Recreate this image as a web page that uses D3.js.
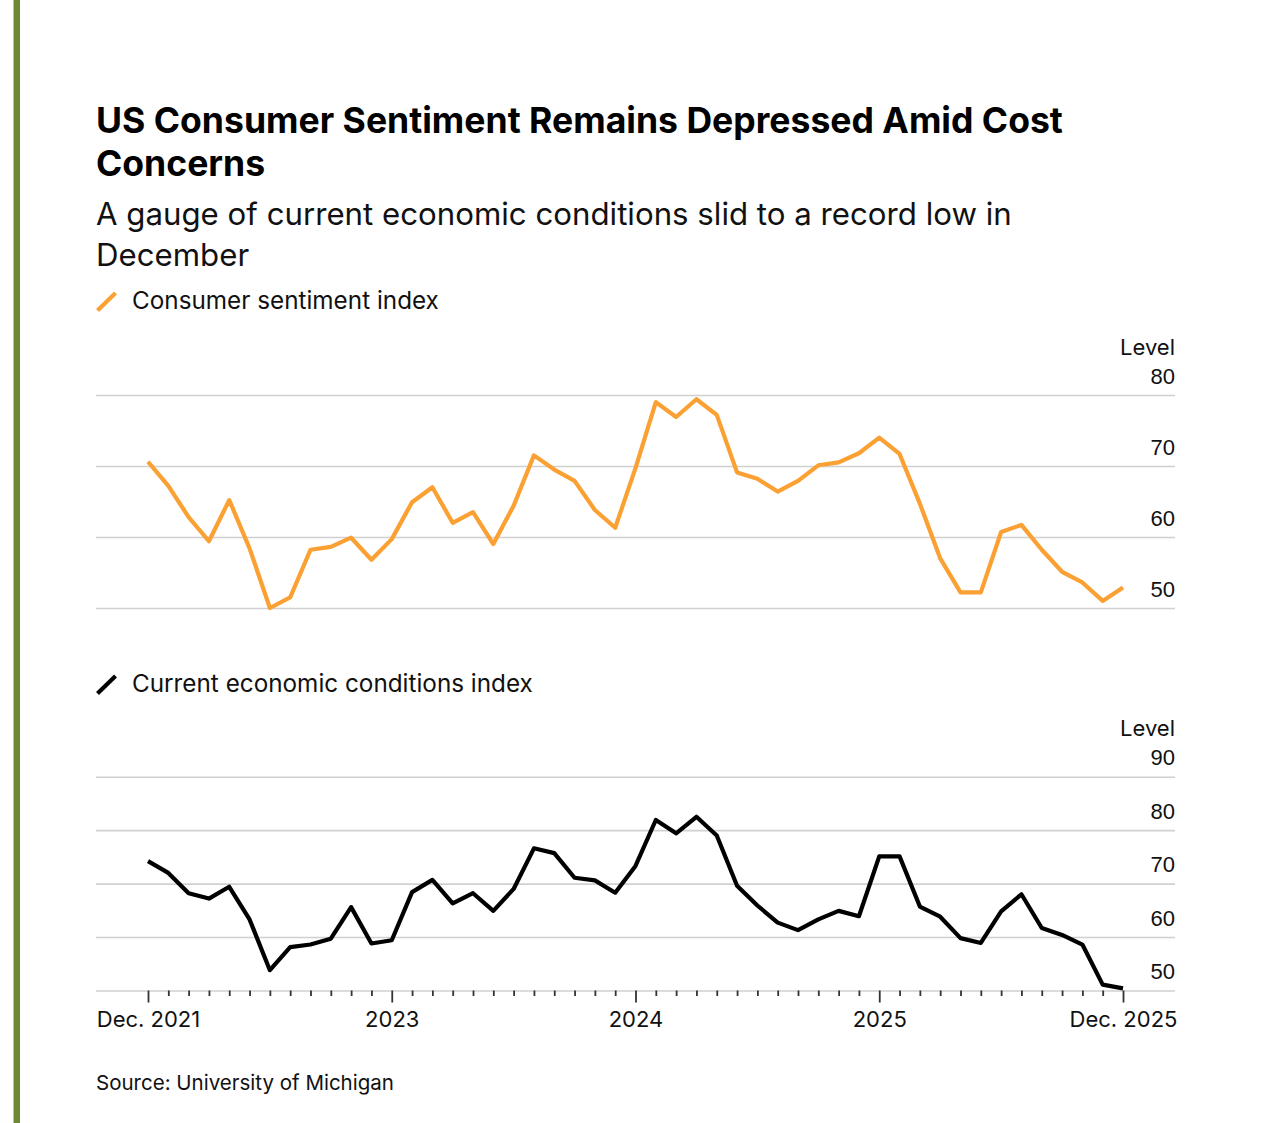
<!DOCTYPE html>
<html>
<head>
<meta charset="utf-8">
<script src="https://cdn.jsdelivr.net/npm/d3@7"></script>
<style>
  html, body { margin: 0; padding: 0; background: #fff; }
  svg { display: block; font-family: Inter, "Liberation Sans", Arial, sans-serif; }
</style>
</head>
<body>
<svg id="chart" width="1279" height="1123"></svg>
<script>
// ---------- DATA ----------
const months = [
  "2021-12",
  "2022-01","2022-02","2022-03","2022-04","2022-05","2022-06","2022-07","2022-08","2022-09","2022-10","2022-11","2022-12",
  "2023-01","2023-02","2023-03","2023-04","2023-05","2023-06","2023-07","2023-08","2023-09","2023-10","2023-11","2023-12",
  "2024-01","2024-02","2024-03","2024-04","2024-05","2024-06","2024-07","2024-08","2024-09","2024-10","2024-11","2024-12",
  "2025-01","2025-02","2025-03","2025-04","2025-05","2025-06","2025-07","2025-08","2025-09","2025-10","2025-11","2025-12"
];
const sentiment = [
  70.6,
  67.2, 62.8, 59.4, 65.2, 58.4, 50.0, 51.5, 58.2, 58.6, 59.9, 56.8, 59.7,
  64.9, 67.0, 62.0, 63.5, 59.0, 64.4, 71.5, 69.5, 67.9, 63.8, 61.3, 69.7,
  79.0, 76.9, 79.4, 77.2, 69.1, 68.2, 66.4, 67.9, 70.1, 70.5, 71.8, 74.0,
  71.7, 64.7, 57.0, 52.2, 52.2, 60.7, 61.7, 58.2, 55.1, 53.6, 51.0, 52.9
];
const currentConditions = [
  74.2,
  72.0, 68.2, 67.2, 69.4, 63.3, 53.8, 58.1, 58.6, 59.7, 65.6, 58.8, 59.4,
  68.4, 70.7, 66.3, 68.2, 64.9, 69.0, 76.6, 75.7, 71.1, 70.6, 68.3, 73.3,
  81.9, 79.4, 82.5, 79.0, 69.6, 65.9, 62.7, 61.3, 63.3, 64.9, 63.9, 75.1,
  75.1, 65.7, 63.8, 59.8, 58.9, 64.8, 68.0, 61.7, 60.4, 58.6, 51.1, 50.4
];
const topTicks = [50, 60, 70, 80];
const bottomTicks = [50, 60, 70, 80, 90];
const xLabelIndex = [0, 12, 24, 36, 48];
const xLabels = ["Dec. 2021", "2023", "2024", "2025", "Dec. 2025"];

const title = ["US Consumer Sentiment Remains Depressed Amid Cost", "Concerns"];
const subtitle = ["A gauge of current economic conditions slid to a record low in", "December"];
const legendTop = "Consumer sentiment index";
const legendBottom = "Current economic conditions index";
const unitLabel = "Level";
const source = "Source: University of Michigan";

// ---------- STYLE ----------
const ORANGE = "#FBA033";
const BLACK = "#000000";
const GRID = "#d0d0d0";
const TEXT = "#111111";
const LEFT = 96, RIGHT = 1175;

const svg = d3.select("#chart");

// fit a text element's font-size so that its rendered width matches a target width
function fitWidth(sel, target) {
  const fs = +sel.attr("font-size");
  const w = sel.node().getComputedTextLength();
  if (w > 0) sel.attr("font-size", (fs * target / w).toFixed(2));
}

// left accent bar
svg.append("rect").attr("x", 13.5).attr("y", 0).attr("width", 6.5).attr("height", 1123).attr("fill", "#6C8A35");

// title
const tt = svg.append("text").attr("font-weight", 700).attr("font-size", 32).attr("fill", "#000");
title.forEach((t, i) => tt.append("tspan").attr("x", LEFT).attr("y", 132.5 + i * 43.5).text(t));
{
  const w = tt.select("tspan").node().getComputedTextLength();
  tt.attr("font-size", (32 * 967 / w).toFixed(2));
}
const st = svg.append("text").attr("font-size", 28).attr("fill", TEXT);
subtitle.forEach((t, i) => st.append("tspan").attr("x", LEFT).attr("y", 224.5 + i * 41).text(t));
{
  const w = st.select("tspan").node().getComputedTextLength();
  st.attr("font-size", (28 * 916 / w).toFixed(2));
}

// legends
function legend(y, color, label, width) {
  svg.append("line").attr("x1", 97.5).attr("x2", 115.5).attr("y1", y + 1.5).attr("y2", y - 16)
    .attr("stroke", color).attr("stroke-width", 4.2).attr("stroke-linecap", "butt");
  const t = svg.append("text").attr("x", 132).attr("y", y).attr("font-size", 23).attr("fill", TEXT).text(label);
  fitWidth(t, width);
}
legend(309, ORANGE, legendTop, 307);
legend(692, BLACK, legendBottom, 401);

// scales
const x = d3.scaleLinear().domain([0, months.length - 1]).range([148, 1123]);
const yTop = d3.scaleLinear().domain([50, 80]).range([608, 395]);
const yBot = d3.scaleLinear().domain([50, 90]).range([990.5, 776.7]);

function yAxis(scale, ticks) {
  const g = svg.append("g").attr("transform", `translate(${RIGHT},0)`)
    .call(d3.axisLeft(scale).tickValues(ticks).tickSize(RIGHT - LEFT).tickFormat(""));
  g.select(".domain").remove();
  g.selectAll(".tick line").attr("stroke", GRID).attr("stroke-width", 1.6);
  g.selectAll(".tick").append("text")
    .attr("x", 0).attr("y", -12).attr("text-anchor", "end")
    .attr("font-size", 22).attr("fill", TEXT).text(d => d);
  const top = d3.max(ticks);
  svg.append("text").attr("x", RIGHT).attr("y", scale(top) - 40.5)
    .attr("text-anchor", "end").attr("font-size", 22).attr("fill", TEXT).text(unitLabel);
}
yAxis(yTop, topTicks);
yAxis(yBot, bottomTicks);

// lines
const lineTop = d3.line().x((d, i) => x(i)).y(d => yTop(d));
const lineBot = d3.line().x((d, i) => x(i)).y(d => yBot(d));
svg.append("path").datum(sentiment).attr("d", lineTop).attr("fill", "none")
  .attr("stroke", ORANGE).attr("stroke-width", 4.2).attr("stroke-linejoin", "round");
svg.append("path").datum(currentConditions).attr("d", lineBot).attr("fill", "none")
  .attr("stroke", BLACK).attr("stroke-width", 4.2).attr("stroke-linejoin", "round");

// x axis ticks
const xa = svg.append("g").attr("transform", `translate(0,${yBot(50)})`)
  .call(d3.axisBottom(x).tickValues(d3.range(months.length)).tickSize(6).tickSizeOuter(0)
    .tickFormat(i => { const k = xLabelIndex.indexOf(i); return k >= 0 ? xLabels[k] : ""; }));
xa.select(".domain").remove();
xa.selectAll(".tick line").attr("stroke", "#333").attr("stroke-width", 1.8)
  .attr("y2", i => xLabelIndex.includes(i) ? 12 : 5.5);
xa.selectAll(".tick text").attr("font-size", 22).attr("fill", TEXT)
  .attr("font-family", "Inter, Liberation Sans, Arial, sans-serif").attr("y", 20.5).attr("dy", "0.73em");

// source
const src = svg.append("text").attr("x", LEFT).attr("y", 1090).attr("font-size", 21).attr("fill", TEXT).text(source);
fitWidth(src, 298);
</script>
</body>
</html>
